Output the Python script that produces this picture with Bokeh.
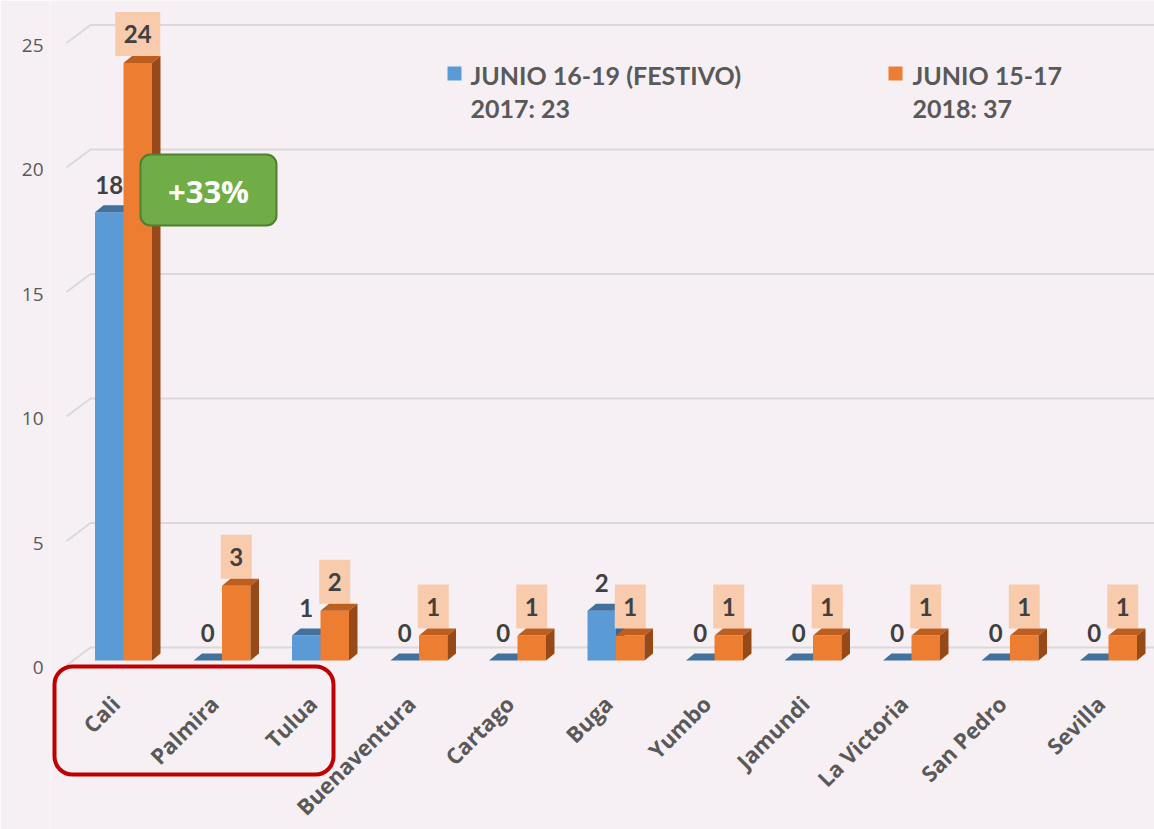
import math
from bokeh.plotting import figure
from bokeh.models import Range1d, LinearAxis, FixedTicker, BoxAnnotation, Label
from bokeh.core.properties import value
from bokeh.embed import file_html
from bokeh.resources import INLINE

# ---------------- data ----------------
cities = ["Cali", "Palmira", "Tulua", "Buenaventura", "Cartago", "Buga",
          "Yumbo", "Jamundi", "La Victoria", "San Pedro", "Sevilla"]
v2017 = [18, 0, 1, 0, 0, 2, 0, 0, 0, 0, 0]
v2018 = [24, 3, 2, 1, 1, 1, 1, 1, 1, 1, 1]
y_ticks = [0, 5, 10, 15, 20, 25]
legend_titles = ["JUNIO 16-19 (FESTIVO)", "JUNIO 15-17"]
legend_totals = ["2017: 23", "2018: 37"]

# ---------------- geometry / style ----------------
W, H = 1154, 829
X0_IMG = 123.0      # pixel centre of first category
STEP = 98.5         # pixels per category
Y0_IMG = 660.0      # pixel of front-plane zero
PPU = 24.9          # pixels per unit
FRAME_L, FRAME_R = 50, W
FRAME_T, FRAME_B = 0, H

def X(px):
    return (px - X0_IMG) / STEP

def Y(py):
    return (Y0_IMG - py) / PPU

BLUE, BLUE_TOP, BLUE_SIDE = "#5B9BD5", "#41719C", "#3A6690"
ORANGE, ORANGE_TOP, ORANGE_SIDE = "#ED7D31", "#BE5E1E", "#974A17"
LABEL_BG = "#F8CBAD"
TXT = "#595959"
DARK = "#404040"
BG = "#F6F0F4"
FONT = "Lato"
FONT2 = "Open Sans"

w = 28.5 / STEP
dx = 8.5 / STEP
dy = 7.0 / PPU

p = figure(width=W, height=H, output_backend="svg", toolbar_location=None,
           x_range=Range1d(X(FRAME_L), X(FRAME_R)),
           y_range=Range1d(Y(FRAME_B), Y(FRAME_T)),
           min_border_left=FRAME_L, min_border_right=0,
           min_border_top=0, min_border_bottom=0,
           y_axis_location=None, x_axis_location=None)
p.background_fill_color = BG
p.border_fill_color = BG
p.outline_line_color = None
p.xgrid.visible = False
p.ygrid.visible = False

# y axis: labels sit slightly below the front-plane values
shift = 7.0 / PPU
p.extra_y_ranges = {"lab": Range1d(Y(FRAME_B) + shift, Y(FRAME_T) + shift)}
yax = LinearAxis(y_range_name="lab", ticker=FixedTicker(ticks=y_ticks),
                 axis_line_color=None, major_tick_line_color=None,
                 minor_tick_line_color=None, major_tick_out=0, major_tick_in=0,
                 minor_tick_out=0, major_label_standoff=7,
                 major_label_text_font=FONT2, major_label_text_font_size="19px",
                 major_label_text_color=TXT)
p.add_layout(yax, "left")

# gridlines (back plane with perspective stub)
g_off = 13.0 / PPU
g_diag = 18.0 / PPU
gx = [[X(66), X(90), X(FRAME_R + 20)] for _ in y_ticks]
gy = [[t + g_off - g_diag, t + g_off, t + g_off] for t in y_ticks]
p.multi_line(gx, gy, line_color="#D9D9D9", line_width=2)

def bars(vals, lefts, front, top_c, side_c):
    rights = [l + w for l in lefts]
    p.quad(left=lefts, right=rights, bottom=[0] * len(vals), top=vals,
           fill_color=front, line_color=None)
    top_xs = [[l, r, r + dx, l + dx] for l, r in zip(lefts, rights)]
    top_ys = [[v, v, v + dy, v + dy] for v in vals]
    p.patches(top_xs, top_ys, fill_color=top_c, line_color=None)
    side_xs = [[r, r + dx, r + dx, r] for r in rights]
    side_ys = [[0, dy, v + dy, v] for v in vals]
    p.patches(side_xs, side_ys, fill_color=side_c, line_color=None)

idx = list(range(len(cities)))
bars(v2017, [i - w for i in idx], BLUE, BLUE_TOP, BLUE_SIDE)

# orange label boxes
box_h = 44.0 / PPU
bw = [(31.0 if len(str(v)) == 1 else 45.0) / STEP for v in v2018]
bc = [i + w / 2 for i in idx]
p.quad(left=[c - b / 2 for c, b in zip(bc, bw)], right=[c + b / 2 for c, b in zip(bc, bw)],
       bottom=[v + dy for v in v2018], top=[v + dy + box_h for v in v2018],
       fill_color=LABEL_BG, line_color=None)

bars(v2018, idx, ORANGE, ORANGE_TOP, ORANGE_SIDE)

# value labels
p.text(x=[i - w / 2 for i in idx], y=[v + 27.5 / PPU for v in v2017],
       text=[str(v) for v in v2017], text_align="center", text_baseline="middle",
       text_font=value(FONT), text_font_style="bold", text_font_size="24px",
       text_color=DARK)
p.text(x=bc, y=[v + dy + box_h / 2 for v in v2018],
       text=[str(v) for v in v2018], text_align="center", text_baseline="middle",
       text_font=value(FONT), text_font_style="bold", text_font_size="24px",
       text_color=DARK)

# category labels (rotated, right end at the category)
p.text(x=[i - 8.0 / STEP for i in idx], y=[Y(699)] * len(cities), text=cities,
       angle=math.pi / 4, text_align="right", text_baseline="middle",
       text_font=value(FONT2), text_font_style="bold", text_font_size="22px",
       text_color=TXT)

# legend
leg_sq = [(447, 461), (888, 902)]
leg_tx = [470, 912]
for (l, r), tx, col, t1, t2 in zip(leg_sq, leg_tx, [BLUE, ORANGE], legend_titles, legend_totals):
    p.add_layout(BoxAnnotation(left=X(l), right=X(r), top=Y(66), bottom=Y(80),
                               fill_color=col, fill_alpha=1, line_color=None))
    p.add_layout(Label(x=X(tx), y=Y(74), text=t1, text_align="left", text_baseline="middle",
                       text_font=FONT, text_font_style="bold", text_font_size="25px",
                       text_color=TXT))
    p.add_layout(Label(x=X(tx), y=Y(107), text=t2, text_align="left", text_baseline="middle",
                       text_font=FONT, text_font_style="bold", text_font_size="25px",
                       text_color=TXT))

# growth callout
pct = round((v2018[0] - v2017[0]) / v2017[0] * 100)
p.add_layout(BoxAnnotation(left=X(140), right=X(276), top=Y(154), bottom=Y(225),
                           fill_color="#70AD47", fill_alpha=1, line_color="#507E32",
                           line_alpha=1, line_width=2, border_radius=10))
p.add_layout(Label(x=X(208), y=Y(190), text=f"+{pct}%", text_align="center",
                   text_baseline="middle", text_font=FONT2, text_font_style="bold",
                   text_font_size="31px", text_color="white"))

# highlight box around first three cities
p.add_layout(BoxAnnotation(left=X(54), right=X(333), top=Y(666), bottom=Y(774),
                           fill_alpha=0, line_color="#C00000", line_alpha=1,
                           line_width=4, border_radius=18))

open("out.html", "w").write(file_html(p, INLINE))
